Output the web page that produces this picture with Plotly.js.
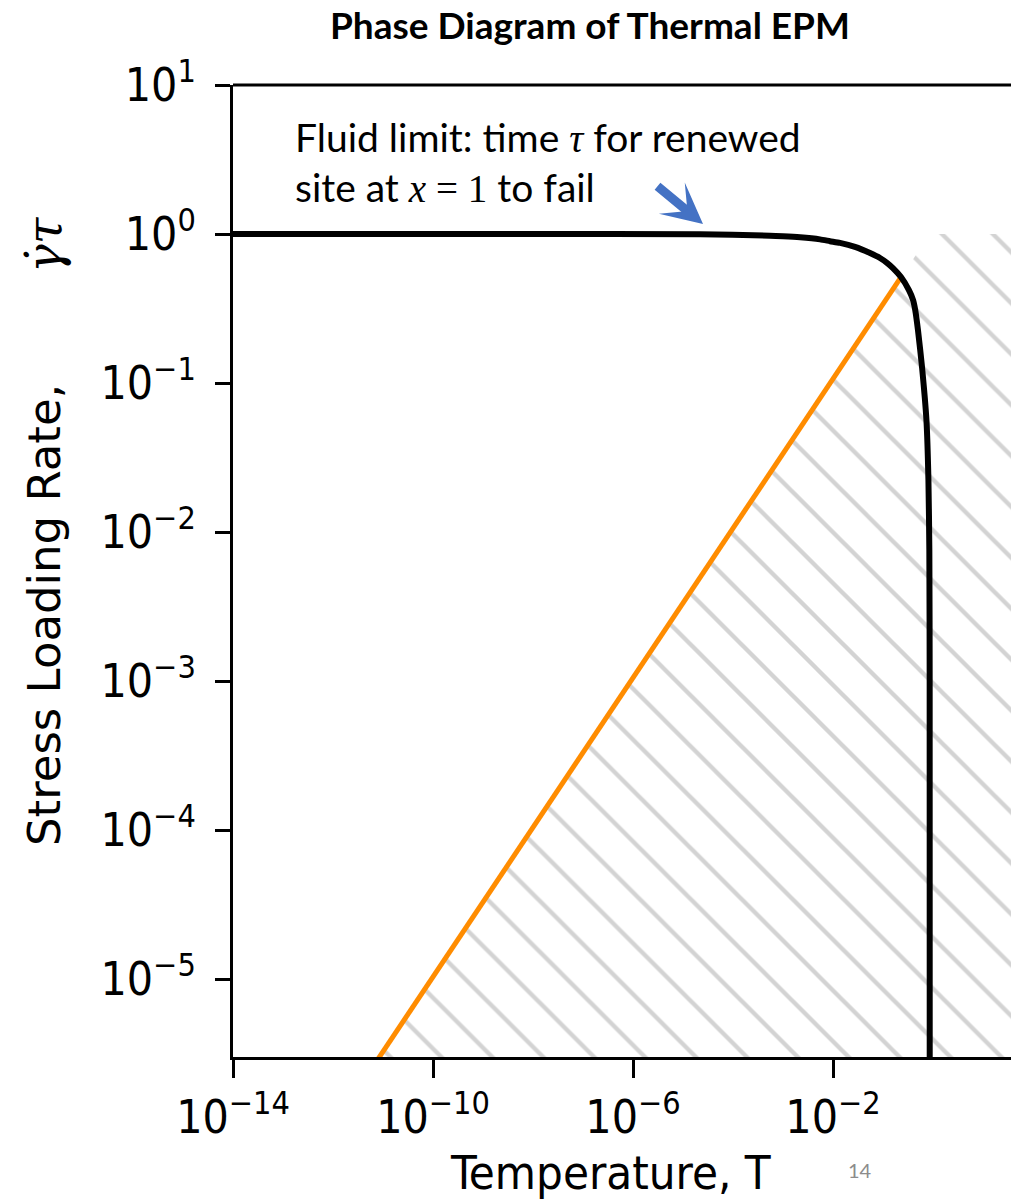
<!DOCTYPE html>
<html>
<head>
<meta charset="utf-8">
<script src="https://cdn.plot.ly/plotly-3.0.1.min.js"></script>
<style>
html,body{margin:0;padding:0;background:#fff;overflow:hidden;}
#chart{width:1011px;height:1199px;}
</style>
</head>
<body>
<div id="chart"></div>
<script>
// ---- data ----
var titleText = "Phase Diagram of Thermal EPM";
var xTitleText = "Temperature, T";
var yTitleText = "Stress Loading Rate,";
var yTitleSymbol = "<i>γ̇τ</i>";
var noteLine1 = "Fluid limit: time <span style=\"font-family:'Liberation Serif';font-style:italic\">τ</span> for renewed";
var noteLine2 = "site at <span style=\"font-family:'Liberation Serif';font-style:italic\">x</span>\u00A0<span style=\"font-family:'Liberation Serif'\">=\u00A01</span> to fail";
var pageNumber = "14";

// black curve: fluid limit (temperature T, loading rate)
var blackT    = [1e-14, 1e-8, 2.2e-5, 5.5e-4, 1e-3,  2.2e-3, 5.5e-3, 0.0087, 0.0138, 0.0275, 0.055, 0.087, 0.12, 0.158, 0.229, 0.33, 0.40, 0.44, 0.50, 0.60, 0.74, 0.81, 0.845, 0.858, 0.86];
var blackRate = [1.0,   1.0,  0.995,  0.975,  0.966, 0.95,   0.92,   0.895,  0.872,  0.82,   0.745, 0.69,  0.64, 0.59,  0.514, 0.42, 0.36, 0.31, 0.227, 0.13, 0.056, 0.0225, 0.0076, 0.001, 1e-6];

// orange line
var orangeT    = [9.5e-13, 0.229];
var orangeRate = [1e-6,    0.514];

// hatched region boundary
var hatchT    = [9.5e-13, 0.87, 100, 100];
var hatchRate = [1e-6,    1.0,  1.0, 1e-6];

// tick labels
var xTickVals = [1e-14, 1e-10, 1e-6, 1e-2];
var xTickText = ["10<sup>−14</sup>", "10<sup>−10</sup>", "10<sup>−6</sup>", "10<sup>−2</sup>"];
var yTickVals = [1e1, 1e0, 1e-1, 1e-2, 1e-3, 1e-4, 1e-5];
var yTickText = ["10<sup>1</sup>", "10<sup>0</sup>", "10<sup>−1</sup>", "10<sup>−2</sup>", "10<sup>−3</sup>", "10<sup>−4</sup>", "10<sup>−5</sup>"];

// ---- layout geometry ----
var W = 1011, H = 1199;
var L = 233, R = 1011, T = 85, B = 1057;
function px(x){ return (x - L) / (R - L); }
function py(y){ return (B - y) / (B - T); }

var tickFont = {family: "'DejaVu Sans Condensed', 'DejaVu Sans', sans-serif", size: 46, color: "#000"};
var noteFont = {family: "Lato, 'Open Sans', sans-serif", size: 39, color: "#000"};

var traces = [
  {
    x: hatchT, y: hatchRate, type: "scatter", mode: "lines",
    fill: "toself", fillcolor: "rgba(255,255,255,0)",
    fillpattern: {shape: "\\", fgcolor: "#d3d3d3", bgcolor: "rgba(255,255,255,0)", size: 36, solidity: 0.12},
    line: {width: 0, color: "rgba(0,0,0,0)"},
    hoverinfo: "skip", showlegend: false
  },
  {
    x: orangeT, y: orangeRate, type: "scatter", mode: "lines",
    line: {color: "#FF8C00", width: 5},
    showlegend: false
  },
  {
    x: blackT, y: blackRate, type: "scatter", mode: "lines",
    line: {color: "#000000", width: 6, shape: "spline", smoothing: 0.6},
    showlegend: false
  }
];

var layout = {
  width: W, height: H,
  margin: {l: L, r: W - R, t: T, b: H - B, pad: 0},
  paper_bgcolor: "#fff", plot_bgcolor: "#fff",
  showlegend: false,
  title: {
    text: "<b>" + titleText + "</b>",
    font: {family: "Lato, 'Open Sans', sans-serif", size: 37, color: "#000"},
    x: 590 / W, xanchor: "center", xref: "container",
    y: 1 - 26 / H, yanchor: "middle", yref: "container"
  },
  xaxis: {
    type: "log", range: [-14, -14 + (R - L) / 50],
    showgrid: false, zeroline: false,
    showline: true, linecolor: "#000", linewidth: 3,
    ticks: "outside", ticklen: 18, tickwidth: 3, tickcolor: "#000",
    tickmode: "array", tickvals: xTickVals, ticktext: xTickText,
    tickfont: tickFont, ticklabelstandoff: 0
  },
  yaxis: {
    type: "log", range: [1 - (B - T) / 149, 1],
    showgrid: false, zeroline: false,
    showline: true, linecolor: "#000", linewidth: 3,
    ticks: "outside", ticklen: 15, tickwidth: 3, tickcolor: "#000",
    tickmode: "array", tickvals: yTickVals, ticktext: yTickText,
    tickfont: tickFont, ticklabelstandoff: 10
  },
  shapes: [
    {type: "line", xref: "paper", yref: "paper", x0: 0, x1: 1, y0: 1, y1: 1,
     line: {color: "#000", width: 3}}
  ],
  annotations: [
    {text: noteLine1, xref: "paper", yref: "paper", x: px(293), y: py(137),
     xanchor: "left", yanchor: "middle", showarrow: false, font: noteFont},
    {text: noteLine2, xref: "paper", yref: "paper", x: px(293), y: py(187),
     xanchor: "left", yanchor: "middle", showarrow: false, font: noteFont},
    {text: "", xref: "paper", yref: "paper", x: px(703), y: py(224),
     ax: 656 - 703, ay: 185 - 224, axref: "pixel", ayref: "pixel",
     showarrow: true, arrowhead: 3, arrowsize: 0.75, arrowwidth: 9,
     arrowcolor: "#4472C4", standoff: 0},
    {text: xTitleText, xref: "paper", yref: "paper", x: px(610), y: py(1172),
     xanchor: "center", yanchor: "middle", showarrow: false,
     font: {family: "'DejaVu Sans Condensed', 'DejaVu Sans', sans-serif", size: 47, color: "#000"}},
    {text: yTitleText, xref: "paper", yref: "paper", x: px(44), y: py(615),
     xanchor: "center", yanchor: "middle", showarrow: false, textangle: -90,
     font: {family: "'DejaVu Sans', sans-serif", size: 45, color: "#000"}},
    {text: yTitleSymbol, xref: "paper", yref: "paper", x: px(44), y: py(245),
     xanchor: "center", yanchor: "middle", showarrow: false, textangle: -90,
     font: {family: "'DejaVu Serif', serif", size: 48, color: "#000"}},
    {text: pageNumber, xref: "paper", yref: "paper", x: px(860), y: py(1170),
     xanchor: "center", yanchor: "middle", showarrow: false,
     font: {family: "Lato, 'Open Sans', sans-serif", size: 20, color: "#8c8c8c"}}
  ]
};

Plotly.newPlot("chart", traces, layout, {displayModeBar: false, staticPlot: true});
</script>
</body>
</html>
